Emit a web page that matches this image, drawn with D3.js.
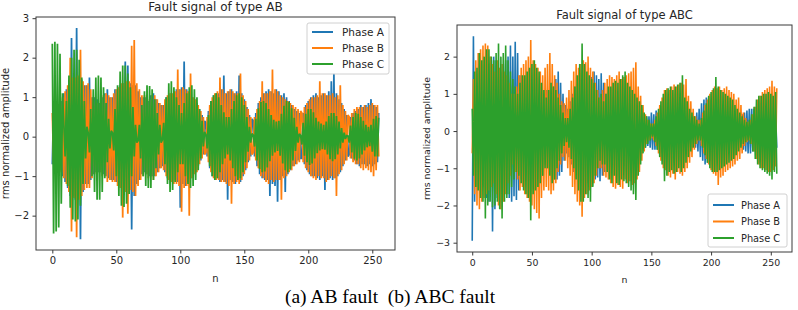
<!DOCTYPE html>
<html><head><meta charset="utf-8">
<script src="https://cdn.jsdelivr.net/npm/d3@7"></script>
<style>body{margin:0;background:#fff}svg{display:block}</style>
</head><body>
<svg id="c" width="798" height="310"></svg>
<script>
const phases = ["Phase A", "Phase B", "Phase C"];
const colors = ["#1f77b4", "#ff7f0e", "#2ca02c"];
const xTicks = [0, 50, 100, 150, 200, 250];
const yTicksAB = [-2, -1, 0, 1, 2, 3];
const yTicksABC = [-3, -2, -1, 0, 1, 2];
const titles = ["Fault signal of type AB", "Fault signal of type ABC"];
const caption = "(a) AB fault\u00a0\u00a0(b) ABC fault";

const abA = [
-0.7,0.8,-0.85,0.8,-0.75,0.8,-0.85,0.9,-1.0,1.1,-1.15,1.2,-1.3,1.4,-1.5,2.5,
-1.5,1.55,-1.6,2.75,-1.6,1.5,-2.6,1.45,-1.4,1.3,-1.2,1.3,-1.2,1.5,-1.1,1.0,
-0.95,1.0,-0.9,0.95,-0.9,0.85,-0.9,1.0,-0.95,1.1,-1.0,1.2,-1.05,1.0,-1.1,1.0,
-1.1,1.2,-1.15,1.2,-1.25,1.3,-1.3,1.35,-1.3,1.9,-1.35,1.8,-1.4,1.35,-2.35,1.3,
-1.5,1.3,-1.2,1.15,-1.1,1.0,-0.95,1.0,-0.9,1.0,-0.95,0.9,-1.0,1.05,-1.0,1.1,
-1.0,0.95,-0.9,0.85,-0.8,0.8,-0.75,0.8,-0.9,1.0,-1.05,1.0,-1.1,1.1,-1.05,1.15,
-1.1,1.2,-1.15,1.2,-1.8,1.25,-1.2,1.9,-1.25,1.2,-1.15,1.1,-1.05,1.0,-0.95,0.9,
-0.9,0.85,-0.75,0.7,-0.6,0.55,-0.45,0.4,0.35,-0.5,0.65,-0.8,0.9,-1.0,1.05,-1.1,
1.1,-1.05,1.1,-1.15,1.2,-1.1,1.55,-1.15,1.1,-1.6,1.15,-1.1,1.2,-1.15,1.1,-1.2,
1.15,-1.1,1.55,-1.15,1.1,-1.0,0.95,-0.85,0.75,-0.65,0.55,-0.5,0.45,0.4,-0.5,0.6,
-0.75,0.85,-0.95,1.0,-1.05,1.1,-1.1,1.15,-1.1,1.2,-1.5,1.15,-1.2,1.1,-1.25,1.2,
-1.65,1.15,-1.1,1.05,-1.0,1.1,-1.4,1.0,-0.95,0.9,-0.85,0.8,-0.75,0.7,-0.7,0.65,
-0.6,0.6,-0.55,-0.55,0.6,-0.7,0.8,-0.85,0.9,-0.95,1.0,-1.0,1.05,-1.0,1.1,-1.05,
1.0,-1.1,1.05,-1.0,1.1,-1.35,1.05,-1.1,1.15,-1.05,1.4,-1.1,1.6,-1.05,1.1,-1.0,
0.95,-0.9,0.85,-0.75,0.7,-0.6,0.55,-0.5,-0.45,0.5,-0.55,0.6,-0.6,0.65,-0.7,0.7,
-0.75,0.8,-0.7,0.75,-0.7,0.8,-0.75,0.85,-0.7,0.95,-0.75,0.8,-0.7,0.75,-0.65,0.6];

const abB = [
0.6,-0.7,0.75,-0.8,0.8,-0.75,0.8,-0.9,1.0,-1.05,1.15,-1.2,1.3,-1.4,2.0,-2.4,
1.5,-1.55,1.5,-2.55,1.55,-1.6,2.2,-1.5,1.4,-1.35,1.3,-1.3,1.35,-1.3,1.2,-1.05,
1.0,-0.95,0.9,-0.95,0.85,-0.9,0.95,-1.0,1.05,-1.0,1.1,-1.15,1.05,-1.1,1.0,-1.15,
1.1,-1.15,1.2,-1.25,1.25,-1.3,1.35,-2.05,1.35,-1.4,1.4,-1.95,1.4,-1.35,2.3,-1.4,
2.45,-1.5,1.35,-1.25,1.2,-1.1,1.05,-1.0,1.05,-0.95,1.0,-1.05,0.95,-1.0,1.05,-1.1,
1.05,-1.0,0.95,-0.9,0.85,-0.8,0.8,-0.85,0.95,-1.0,1.05,-1.1,1.1,-1.15,1.1,-1.2,
1.15,-1.2,1.7,-1.25,1.2,-1.9,1.25,-1.3,1.2,-1.25,1.15,-2.0,1.6,-1.05,1.0,-0.95,
0.95,-0.9,0.8,-0.7,0.65,-0.55,0.5,-0.45,-0.4,0.5,-0.65,0.8,-0.9,1.0,-1.05,1.1,
-1.1,1.15,-1.1,1.5,-1.15,1.2,-1.15,1.1,-1.2,1.15,-1.25,1.2,-1.7,1.15,-1.2,1.1,
-1.15,1.1,-1.2,1.6,-1.1,1.05,-0.95,0.9,-0.8,0.7,-0.6,0.5,-0.45,-0.4,0.5,-0.6,
0.7,-0.8,0.9,-1.0,1.4,-1.05,1.1,-1.15,1.1,-1.2,1.15,-1.1,1.7,-1.15,1.2,-1.1,
1.15,-1.1,1.05,-1.6,1.0,-1.05,0.95,-1.0,0.9,-0.9,0.85,-0.85,0.8,-0.75,0.75,-0.7,
0.7,-0.65,0.65,0.6,-0.65,0.75,-0.8,0.85,-0.9,0.95,-1.0,1.0,-1.05,1.0,-1.1,1.05,
-1.0,1.4,-1.05,1.1,-1.05,1.1,-1.15,1.05,-1.1,1.05,-1.0,1.1,-1.05,1.0,-1.5,1.05,
-0.95,1.3,-0.85,0.8,-0.7,0.65,-0.6,0.55,0.5,-0.55,0.6,-0.65,0.7,-0.7,0.75,-0.7,
0.75,-0.8,0.75,-0.85,0.8,-0.8,0.75,-0.85,0.8,-0.9,0.85,-1.0,0.8,-0.85,0.8,-0.5];

const abC = [
2.35,-2.45,2.4,-2.4,2.35,-2.3,2.1,-1.7,1.1,0.3,-0.5,0.9,-1.25,1.55,-1.8,2.0,
-2.1,2.2,-2.15,2.2,-2.1,1.95,-1.75,1.5,-1.2,0.9,-0.55,0.25,0.1,-0.4,0.7,-1.0,
1.2,-1.4,1.5,-1.6,1.55,-1.6,1.5,-1.4,1.25,-1.05,0.85,-0.65,0.45,-0.3,0.15,0.1,
-0.35,0.7,-1.0,1.3,-1.5,1.65,-1.75,1.8,-1.78,1.8,-1.7,1.6,-1.45,1.25,-1.0,0.75,
-0.5,0.3,-0.15,-0.1,0.3,-0.55,0.8,-1.0,1.15,-1.25,1.3,-1.3,1.28,-1.3,1.2,-1.1,
0.95,-0.8,0.6,-0.45,0.3,-0.15,-0.08,0.35,-0.7,1.0,-1.2,1.35,-1.4,1.4,-1.35,1.25,
-1.15,1.0,-0.9,0.8,-0.7,0.6,-0.7,0.85,-1.0,1.1,-1.2,1.25,-1.3,1.3,-1.25,1.2,
-1.1,1.0,-0.85,0.7,-0.55,0.4,-0.25,0.12,0.05,-0.3,0.55,-0.75,0.9,-1.0,1.05,-1.1,
1.1,-1.05,1.0,-0.9,0.8,-0.7,0.62,-0.55,0.5,-0.45,0.5,-0.6,0.7,-0.8,0.9,-1.0,
1.05,-1.1,1.1,-1.05,1.0,-0.9,0.8,-0.65,0.5,-0.38,0.25,-0.15,0.08,0.04,-0.25,0.45,
-0.6,0.72,-0.82,0.88,-0.9,0.9,-0.88,0.85,-0.78,0.7,-0.62,0.55,-0.48,0.43,-0.4,0.38,
-0.36,0.4,-0.48,0.58,-0.68,0.78,-0.85,0.9,-0.9,0.88,-0.82,0.72,-0.6,0.48,-0.36,0.25,
-0.15,0.07,0.03,-0.2,0.35,-0.48,0.58,-0.65,0.7,-0.72,0.7,-0.68,0.62,-0.55,0.48,-0.42,
0.38,-0.35,0.33,-0.32,0.3,-0.33,0.38,-0.45,0.52,-0.57,0.6,-0.62,0.6,-0.57,0.52,-0.45,
0.38,-0.3,0.22,-0.15,0.1,-0.06,0.03,0.02,-0.15,0.28,-0.4,0.5,-0.56,0.6,-0.6,0.58,
-0.55,0.5,-0.45,0.4,-0.35,0.3,-0.27,0.25,-0.24,0.3,-0.38,0.45,-0.5,0.52,-0.5,0.48];

const abcA = [
-2.95,2.55,-1.9,1.6,-1.5,1.2,-1.0,0.9,-1.1,1.3,-1.5,1.6,-1.8,1.7,-1.9,1.8,
1.9,-2.7,2.0,-2.1,1.9,-1.8,1.7,-1.9,1.6,-1.7,1.8,-1.6,1.9,-1.7,2.0,-1.8,
2.3,-1.9,2.0,-1.75,2.4,-1.85,2.1,-1.6,1.5,-1.3,1.1,-0.9,0.8,-0.9,1.0,-1.1,
1.2,-1.0,1.1,-1.2,1.3,-1.1,1.2,-1.0,0.9,-1.0,1.1,-1.2,1.0,-0.9,1.1,-1.0,
0.9,-0.8,1.0,-1.1,1.2,-1.3,1.4,-1.3,1.6,-1.2,1.3,-1.1,1.0,-0.8,0.7,-0.6,
0.6,-0.7,0.8,-0.9,1.0,-1.1,1.2,-1.1,1.3,-1.2,1.4,-1.3,1.2,-1.1,1.5,-1.2,
1.3,-1.4,1.4,-1.5,1.45,-1.4,1.6,-1.3,1.5,-1.25,1.4,-1.35,1.55,-1.2,1.3,-1.1,
1.0,-0.9,0.85,-0.8,0.9,-0.85,0.8,-0.75,0.7,-0.8,0.9,-0.85,0.8,-0.9,1.0,-0.95,
0.9,-1.0,0.95,-0.9,0.85,-0.8,0.9,-0.85,0.8,-0.75,0.7,-0.65,0.6,-0.55,0.5,-0.5,
0.45,-0.45,0.4,-0.4,0.4,-0.45,0.5,-0.5,0.45,-0.5,0.55,-0.5,0.45,-0.5,0.55,-0.6,
0.55,-0.6,0.65,-0.7,0.75,-0.8,0.85,-0.8,0.9,-0.85,0.8,-0.9,0.85,-0.8,0.75,-0.7,
0.65,-0.6,0.55,-0.5,0.45,-0.4,0.35,-0.35,0.3,-0.35,0.4,-0.45,0.5,-0.55,0.6,-0.7,
0.75,-0.8,0.85,-0.9,0.9,-0.85,0.9,-0.8,0.85,-0.75,0.7,-0.65,0.6,-0.55,0.5,-0.45,
0.4,-0.35,0.3,-0.3,0.35,-0.4,0.45,-0.5,0.55,-0.5,0.45,-0.5,0.4,-0.35,0.3,-0.3,
0.35,-0.4,0.45,-0.5,0.5,-0.55,0.55,-0.6,0.6,-0.6,0.6,-0.55,0.6,-0.55,0.5,-0.5,
0.45,-0.4,0.35,-0.3,0.3,-0.35,0.4,-0.45,0.5,-0.55,0.5,-0.55,0.6,-0.55,0.5,-0.45];

const abcB = [
-0.6,1.4,-1.7,1.9,-2.0,2.1,-2.1,2.2,-1.9,2.3,-1.8,2.35,-1.7,2.3,-1.6,2.0,
-1.5,1.8,-1.4,1.6,-1.7,1.9,-2.0,1.7,-2.1,1.8,-1.9,1.6,-1.7,1.5,-1.4,1.3,
-1.2,1.0,-0.9,1.0,-1.1,1.2,-1.3,1.5,-1.6,1.7,-1.5,1.8,-1.7,1.9,-1.8,2.0,
-1.9,2.45,-2.0,1.9,-2.1,1.8,-2.2,1.7,-2.35,1.6,-1.8,1.5,-1.6,1.7,-1.5,1.8,
-1.6,2.1,-1.7,1.8,-1.6,1.5,-1.4,1.3,-1.1,1.0,-0.9,0.8,-0.7,0.75,-0.8,0.9,
-1.0,1.1,-1.2,1.35,-1.5,1.6,-1.7,1.8,-1.9,1.7,-2.0,1.8,-2.3,1.9,-1.8,1.85,
-1.7,2.0,-1.6,1.7,-1.5,1.6,-1.4,1.3,-1.2,1.1,-1.0,0.9,-1.0,1.1,-1.2,1.3,
-1.25,1.4,-1.3,1.5,-1.4,1.45,-1.5,1.4,-1.55,1.5,-1.45,1.6,-1.5,1.4,-1.55,1.45,
-1.3,1.5,-1.4,1.55,-1.35,1.6,-1.45,1.7,-1.4,1.85,-1.3,1.2,-1.1,0.95,-0.8,0.7,
-0.55,0.45,-0.35,0.3,-0.25,0.2,-0.2,0.2,-0.25,0.3,-0.4,0.5,-0.6,0.7,-0.8,0.9,
-1.0,1.1,-1.05,1.15,-1.2,1.1,-1.25,1.2,-1.15,1.25,-1.3,1.2,-1.1,1.25,-1.15,1.3,
-1.2,1.25,-1.1,1.4,-1.0,0.95,-0.85,0.8,-0.7,0.6,-0.5,0.4,-0.35,0.3,-0.25,0.3,
-0.4,0.5,-0.6,0.7,-0.75,0.85,-0.9,1.0,-1.05,1.1,-1.15,1.2,-1.2,1.15,-1.45,1.2,
-1.25,1.1,-1.2,1.15,-1.1,1.2,-1.05,1.1,-1.0,1.05,-0.95,1.0,-0.9,0.85,-0.8,0.9,
-0.75,0.7,-0.6,0.5,-0.4,0.35,-0.3,0.25,-0.25,0.3,-0.35,0.45,-0.55,0.65,-0.75,0.85,
-0.9,0.95,-1.0,1.05,-1.0,1.1,-1.05,1.15,-1.1,1.2,-1.1,1.35,-1.05,1.2,-0.95,1.15];

const abcC = [
0.6,-1.2,1.6,-1.5,1.7,-1.6,2.1,-1.8,1.9,-1.9,2.0,-2.35,2.2,-2.0,2.2,-1.9,
2.0,-2.05,1.9,-2.0,2.1,-1.9,2.35,-2.1,2.0,-2.35,2.1,-1.9,2.3,-1.8,1.9,-1.7,
1.6,-1.5,1.4,-1.3,1.2,-1.1,1.0,-1.2,1.3,-1.4,1.5,-1.6,1.5,-1.7,1.6,-1.8,
1.7,-2.4,1.8,-1.7,1.9,-1.6,1.7,-1.5,1.6,-1.4,1.3,-1.2,1.1,-1.0,0.9,-1.0,
1.1,-1.2,1.3,-1.4,1.2,-1.3,1.1,-1.0,0.9,-0.8,0.7,-0.6,0.5,-0.4,0.35,-0.3,
0.35,-0.45,0.6,-0.75,0.9,-1.0,1.2,-1.3,1.5,-1.6,1.8,-1.9,2.35,-1.9,1.8,-1.7,
1.6,-1.8,1.5,-1.9,1.4,-1.5,1.3,-1.2,1.1,-1.0,0.9,-0.8,1.0,-0.9,0.8,-0.9,
1.0,-1.1,1.2,-1.3,1.2,-1.4,1.3,-1.2,1.35,-1.4,1.3,-1.45,1.4,-1.3,1.5,-1.35,
1.6,-1.4,1.3,-1.5,1.2,-1.6,1.1,-1.7,1.0,-1.85,0.9,-1.2,0.8,-0.9,0.7,-0.6,
0.5,-0.45,0.4,-0.35,0.3,-0.25,0.2,-0.15,0.2,-0.3,0.4,-0.5,0.6,-0.7,0.8,-0.9,
1.0,-1.35,1.1,-1.2,1.15,-1.1,1.2,-1.05,1.1,-1.15,1.2,-1.1,1.25,-1.0,1.3,-1.1,
1.5,-1.0,0.9,-0.85,0.8,-0.7,0.6,-0.55,0.5,-0.45,0.4,-0.35,0.3,-0.25,0.2,-0.25,
0.35,-0.45,0.55,-0.65,0.75,-0.85,0.95,-1.0,1.05,-1.1,1.15,-1.1,1.45,-1.1,1.2,-1.05,
1.1,-1.0,1.05,-0.95,1.0,-0.9,0.95,-0.85,0.9,-0.8,0.85,-0.75,0.7,-0.65,0.6,-0.55,
0.5,-0.45,0.4,-0.35,0.3,-0.3,0.25,-0.25,0.3,-0.35,0.45,-0.55,0.65,-0.75,0.85,-0.9,
0.95,-1.0,0.95,-1.05,1.0,-1.1,1.0,-1.15,1.05,-1.2,1.0,-1.3,0.95,-1.1,1.05,-1.15];

const svg = d3.select("#c");
const FONT = "'DejaVu Sans', sans-serif";
const TXT = "#262626";
const fmt = d3.format("d");

function chart(cfg) {
  const g = svg.append("g");
  const x = d3.scaleLinear().domain([-12.75, 267.75]).range([cfg.left, cfg.right]);
  const y = d3.scaleLinear().domain(cfg.yDomain).range([cfg.bottom, cfg.top]);
  const clipId = "clip" + cfg.id;
  g.append("clipPath").attr("id", clipId).append("rect")
    .attr("x", cfg.left).attr("y", cfg.top)
    .attr("width", cfg.right - cfg.left).attr("height", cfg.bottom - cfg.top);
  const line = d3.line().x((d, i) => x(i)).y(d => y(d));
  const lines = g.append("g").attr("clip-path", `url(#${clipId})`);
  cfg.series.forEach((s, k) => {
    lines.append("path").attr("d", line(s)).attr("fill", "none")
      .attr("stroke", colors[k]).attr("stroke-width", cfg.lw)
      .attr("stroke-linejoin", "miter").attr("stroke-miterlimit", 2);
  });
  g.append("rect").attr("x", cfg.left).attr("y", cfg.top)
    .attr("width", cfg.right - cfg.left).attr("height", cfg.bottom - cfg.top)
    .attr("fill", "none").attr("stroke", "#3a3a3a").attr("stroke-width", 1);
  const ax = g.append("g").attr("transform", `translate(0,${cfg.bottom})`)
    .call(d3.axisBottom(x).tickValues(xTicks).tickFormat(fmt).tickSize(3.5).tickPadding(3.5));
  const ay = g.append("g").attr("transform", `translate(${cfg.left},0)`)
    .call(d3.axisLeft(y).tickValues(cfg.yTicks).tickFormat(fmt).tickSize(3.5).tickPadding(3.5));
  [ax, ay].forEach(a => {
    a.select(".domain").remove();
    a.selectAll("line").attr("stroke", "#3a3a3a");
    a.selectAll("text").attr("fill", TXT).style("font-family", FONT).style("font-size", cfg.fs + "px");
  });
  g.append("text").attr("x", (cfg.left + cfg.right) / 2).attr("y", cfg.titleY)
    .attr("text-anchor", "middle").attr("fill", TXT)
    .style("font-family", FONT).style("font-size", cfg.tfs + "px").text(cfg.title);
  g.append("text").attr("x", (cfg.left + cfg.right) / 2).attr("y", cfg.xlabY)
    .attr("text-anchor", "middle").attr("fill", TXT)
    .style("font-family", FONT).style("font-size", cfg.fs + "px").text("n");
  g.append("text").attr("transform", `translate(${cfg.ylabX},${(cfg.top + cfg.bottom) / 2}) rotate(-90)`)
    .attr("text-anchor", "middle").attr("fill", TXT)
    .style("font-family", FONT).style("font-size", cfg.fs + "px").text("rms normalized amplitude");
  const L = cfg.legend;
  g.append("rect").attr("x", L.x).attr("y", L.y).attr("width", L.w).attr("height", L.h)
    .attr("rx", 2).attr("fill", "#fff").attr("fill-opacity", 0.85)
    .attr("stroke", "#d0d0d0").attr("stroke-width", 1);
  phases.forEach((p, k) => {
    const yy = L.y + L.pad + k * L.step;
    g.append("line").attr("x1", L.x + 5).attr("x2", L.x + 5 + L.len)
      .attr("y1", yy).attr("y2", yy).attr("stroke", colors[k]).attr("stroke-width", 2);
    g.append("text").attr("x", L.x + L.tx).attr("y", yy).attr("dy", "0.36em")
      .attr("fill", TXT).style("font-family", FONT).style("font-size", L.fs + "px").text(p);
  });
}

chart({
  id: 1, left: 36, right: 395, top: 17, bottom: 250, yDomain: [-2.87, 3.03],
  yTicks: yTicksAB, series: [abA, abB, abC], lw: 1.75, fs: 10, tfs: 12,
  title: titles[0], titleY: 11, xlabY: 282, ylabX: 9,
  legend: {x: 307, y: 23, w: 82, h: 51, pad: 9, step: 16, len: 21, tx: 35, fs: 10.5}
});
chart({
  id: 2, left: 457, right: 792, top: 25, bottom: 252, yDomain: [-3.25, 2.85],
  yTicks: yTicksABC, series: [abcA, abcB, abcC], lw: 1.6, fs: 9.4, tfs: 11.5,
  title: titles[1], titleY: 19, xlabY: 283, ylabX: 430,
  legend: {x: 708, y: 194, w: 79, h: 53, pad: 11, step: 16.5, len: 21, tx: 33, fs: 9.8}
});

svg.append("text").attr("x", 390).attr("y", 303).attr("text-anchor", "middle")
  .attr("fill", "#000").style("font-family", "'Liberation Serif', 'Times New Roman', serif")
  .style("font-size", "19.5px").text(caption);
</script>
</body></html>
